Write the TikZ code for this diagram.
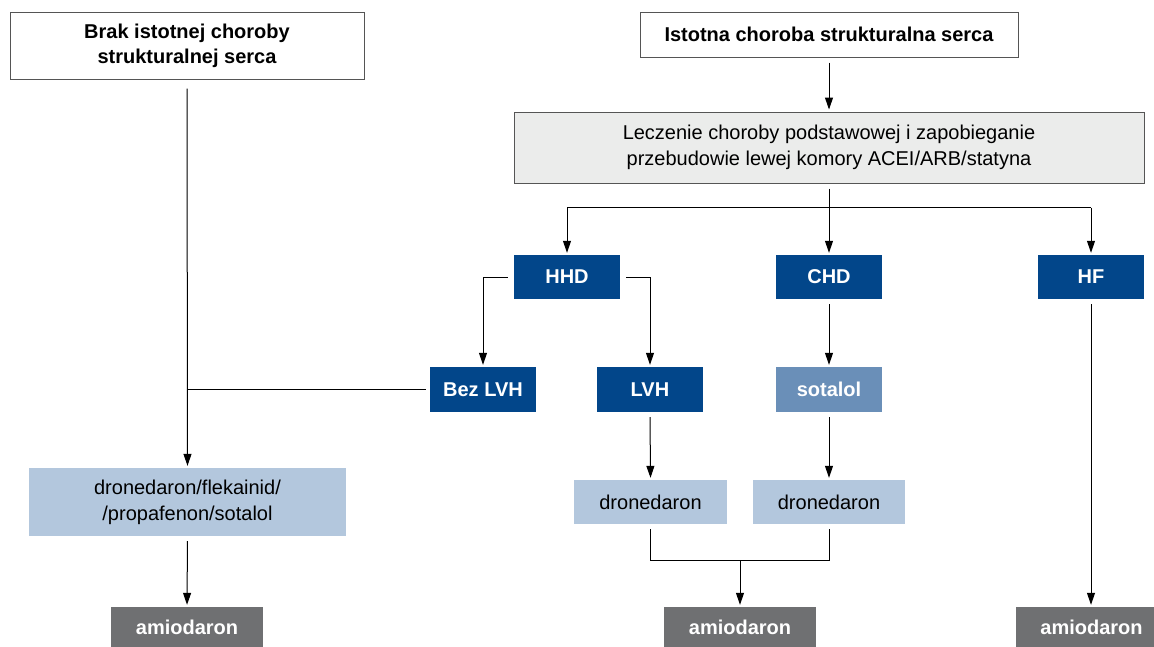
\documentclass[tikz,border=0pt]{standalone}
\usepackage{fontspec}
\setmainfont{Liberation Sans}
\usetikzlibrary{arrows.meta}
\definecolor{dblue}{HTML}{02468A}
\definecolor{mblue}{HTML}{6A8FB8}
\definecolor{lblue}{HTML}{B3C7DD}
\definecolor{dgray}{HTML}{6F7072}
\definecolor{lgray}{HTML}{EBECEB}
\definecolor{bord}{HTML}{555555}
\tikzset{
  base/.style={inner sep=0pt, align=center, font=\fontsize{20}{26}\selectfont},
  whitebox/.style={base, draw=bord, line width=1pt, fill=white, font=\fontsize{20}{25}\selectfont\bfseries},
  graybox/.style={base, draw=bord, line width=1pt, fill=lgray},
  bluebox/.style={base, fill=dblue, text=white, font=\fontsize{20}{25}\selectfont\bfseries, minimum width=106pt, minimum height=44pt},
  midbox/.style={bluebox, fill=mblue},
  lightbox/.style={base, fill=lblue, text=black},
  amibox/.style={base, fill=dgray, text=white, font=\fontsize{20}{25}\selectfont\bfseries, minimum width=152pt, minimum height=40pt},
  arr/.style={-{Triangle[length=12pt,width=8pt]}, line width=1pt, shorten <=5pt, shorten >=2pt},
  ln/.style={line width=1pt}
}
\begin{document}
\begin{tikzpicture}[x=1pt,y=-1pt]
\useasboundingbox (0,0) rectangle (1154,646);
\node[whitebox, minimum width=354pt, minimum height=67pt] (b1) at (187,45.5) {Brak istotnej choroby\\strukturalnej serca};
\node[whitebox, minimum width=378pt, minimum height=45pt] (b2) at (829,34.5) {Istotna choroba strukturalna serca};
\node[graybox, minimum width=630pt, minimum height=71pt] (b3) at (829,147.5) {Leczenie choroby podstawowej i zapobieganie\\przebudowie lewej komory ACEI/ARB/statyna};
\node[bluebox] (hhd) at (567,277) {HHD};
\node[bluebox] (chd) at (829,277) {CHD};
\node[bluebox] (hf) at (1091,277) {HF};
\node[bluebox, minimum height=45pt] (bez) at (483,389.5) {Bez LVH};
\node[bluebox, minimum height=45pt] (lvh) at (650,389.5) {LVH};
\node[midbox, minimum height=45pt] (sot) at (829,389.5) {sotalol};
\node[lightbox, minimum width=317pt, minimum height=68pt] (dfp) at (187.5,502) {dronedaron/flekainid/\\/propafenon/sotalol};
\node[lightbox, minimum width=153pt, minimum height=44pt] (dr1) at (650.5,502) {dronedaron};
\node[lightbox, minimum width=152pt, minimum height=44pt] (dr2) at (829,502) {dronedaron};
\node[amibox] (am1) at (187,627) {amiodaron};
\node[amibox] (am2) at (740,627) {amiodaron};
\node[amibox] (am3) at (1091.5,627) {amiodaron};
% connectors
\draw[arr, shorten <=9pt] (b1.south) -- (dfp.north);
\draw[ln] ([xshift=-4pt]bez.west) -- (bez.west -| b1.south);
\draw[arr] (b2.south) -- (b3.north);
\coordinate (split) at ([yshift=-24pt]b3.south);
\draw[ln, shorten <=5pt] (b3.south) -- (split);
\draw[ln] (split -| hhd.north) -- (split -| hf.north);
\draw[arr, shorten <=0pt] (split -| hhd.north) -- (hhd.north);
\draw[arr, shorten <=0pt] (split) -- (chd.north);
\draw[arr, shorten <=0pt] (split -| hf.north) -- (hf.north);
\draw[arr, shorten <=6pt] (hhd.west) -| (bez.north);
\draw[arr, shorten <=6pt] (hhd.east) -| (lvh.north);
\draw[arr] (chd.south) -- (sot.north);
\draw[arr] (lvh.south) -- (dr1.north);
\draw[arr] (sot.south) -- (dr2.north);
\draw[arr] (dfp.south) -- (am1.north);
\draw[arr] (hf.south) -- (hf.south |- am3.north);
\coordinate (join) at ([yshift=-36pt]dr1.south);
\draw[ln, shorten <=5pt, shorten >=5pt] (dr1.south) -- (join) -- (join -| dr2.south) -- (dr2.south);
\draw[arr, shorten <=0pt] (join -| am2.north) -- (am2.north);
\end{tikzpicture}
\end{document}
